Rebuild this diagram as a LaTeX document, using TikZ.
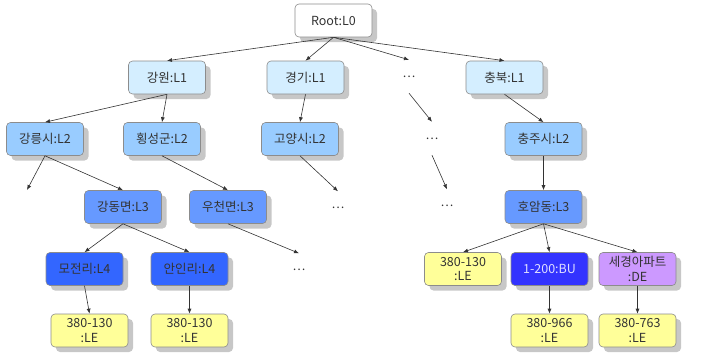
\documentclass[tikz,border=0pt]{standalone}
\usepackage{fontspec}
\setmainfont{Noto Sans CJK KR}
\usetikzlibrary{arrows.meta,shadows}

\definecolor{lvzero}{HTML}{FFFFFF}
\definecolor{lvone}{HTML}{D4EEFF}
\definecolor{lvtwo}{HTML}{99CCFF}
\definecolor{lvthree}{HTML}{6699FF}
\definecolor{lvfour}{HTML}{3366FF}
\definecolor{bucol}{HTML}{3333FF}
\definecolor{decol}{HTML}{CC99FF}
\definecolor{lecol}{HTML}{FFFF99}
\definecolor{edgecol}{HTML}{8C8C8C}
\definecolor{inkcol}{HTML}{333333}

\tikzset{
  box/.style={draw=edgecol, line width=0.6pt, rounded corners=4pt,
    minimum width=77pt, minimum height=33pt, inner sep=0.5pt,
    font=\fontsize{12.5}{14.5}\selectfont, text=inkcol, align=center,
    drop shadow={shadow xshift=5pt, shadow yshift=-5pt, fill=black!22, opacity=1}},
  rootbox/.style={box, fill=lvzero},
  lone/.style={box, fill=lvone},
  ltwo/.style={box, fill=lvtwo},
  lthree/.style={box, fill=lvthree},
  lfour/.style={box, fill=lvfour},
  bubox/.style={box, fill=bucol, text=white!85!bucol},
  debox/.style={box, fill=decol},
  lebox/.style={box, fill=lecol},
  gap/.style={minimum width=10pt, minimum height=33pt, inner sep=0pt,
    font=\fontsize{12}{14}\selectfont, text=inkcol},
  link/.style={draw=black!80, line width=0.6pt, -{Latex[length=5pt,width=4pt]}}
}

\begin{document}
\begin{tikzpicture}[x=1pt, y=-1pt]
  \useasboundingbox (0,0) rectangle (718,356);

  % level 0
  \node[rootbox] (root) at (333.5,20.5) {Root:L0};

  % level 1
  \node[lone] (gangwon) at (167,77.5) {강원:L1};
  \node[lone] (gyeonggi) at (305.5,77.5) {경기:L1};
  \node[gap] (g1) at (409,76.5) {…};
  \node[lone] (chungbuk) at (504.5,77.5) {충북:L1};

  % level 2
  \node[ltwo] (gangneung) at (45,139) {강릉시:L2};
  \node[ltwo] (hoengseong) at (162,139) {횡성군:L2};
  \node[ltwo] (goyang) at (300,139) {고양시:L2};
  \node[gap] (g2) at (432,138.5) {…};
  \node[ltwo] (chungju) at (543.5,139) {충주시:L2};
  \coordinate (loose) at (27,190);

  % level 3
  \node[lthree] (gangdong) at (123,207) {강동면:L3};
  \node[lthree] (ucheon) at (228,207) {우천면:L3};
  \node[gap] (g3) at (338,208) {…};
  \node[gap] (g4) at (447,206) {…};
  \node[lthree] (hoam) at (543.5,207) {호암동:L3};

  % level 4
  \node[lfour] (mojeon) at (84.5,269) {모전리:L4};
  \node[lfour] (anin) at (189.5,269) {안인리:L4};
  \node[gap] (g5) at (299,270) {…};
  \node[lebox] (leA) at (463,269) {380-130\\:LE};
  \node[bubox] (bu) at (549.5,269) {1-200:BU};
  \node[debox] (de) at (637.5,269) {세경아파트\\:DE};

  % level 5
  \node[lebox] (leB) at (89.5,330.5) {380-130\\:LE};
  \node[lebox] (leC) at (189.5,330.5) {380-130\\:LE};
  \node[lebox] (leD) at (549.5,330.5) {380-966\\:LE};
  \node[lebox] (leE) at (637.5,330.5) {380-763\\:LE};

  % connectors
  \draw[link] (root.south) -- (gangwon.north);
  \draw[link] (root.south) -- (gyeonggi.north);
  \draw[link] (root.south) -- (g1.north);
  \draw[link] (root.south) -- (chungbuk.north);

  \draw[link] (gangwon.south) -- (gangneung.north);
  \draw[link] (gangwon.south) -- (hoengseong.north);
  \draw[link] (gyeonggi.south) -- (goyang.north);
  \draw[link] (g1.south) -- (g2.north);
  \draw[link] (chungbuk.south) -- (chungju.north);

  \draw[link] (gangneung.south) -- (loose);
  \draw[link] (gangneung.south) -- (gangdong.north);
  \draw[link] (hoengseong.south) -- (ucheon.north);
  \draw[link] (goyang.south) -- (g3.north);
  \draw[link] (g2.south) -- (g4.north);
  \draw[link] (chungju.south) -- (hoam.north);

  \draw[link] (gangdong.south) -- (mojeon.north);
  \draw[link] (gangdong.south) -- (anin.north);
  \draw[link] (ucheon.south) -- (g5.north);
  \draw[link] (hoam.south) -- (leA.north);
  \draw[link] (hoam.south) -- (bu.north);
  \draw[link] (hoam.south) -- (de.north);

  \draw[link] (mojeon.south) -- (leB.north);
  \draw[link] (anin.south) -- (leC.north);
  \draw[link] (bu.south) -- (leD.north);
  \draw[link] (de.south) -- (leE.north);
\end{tikzpicture}
\end{document}
